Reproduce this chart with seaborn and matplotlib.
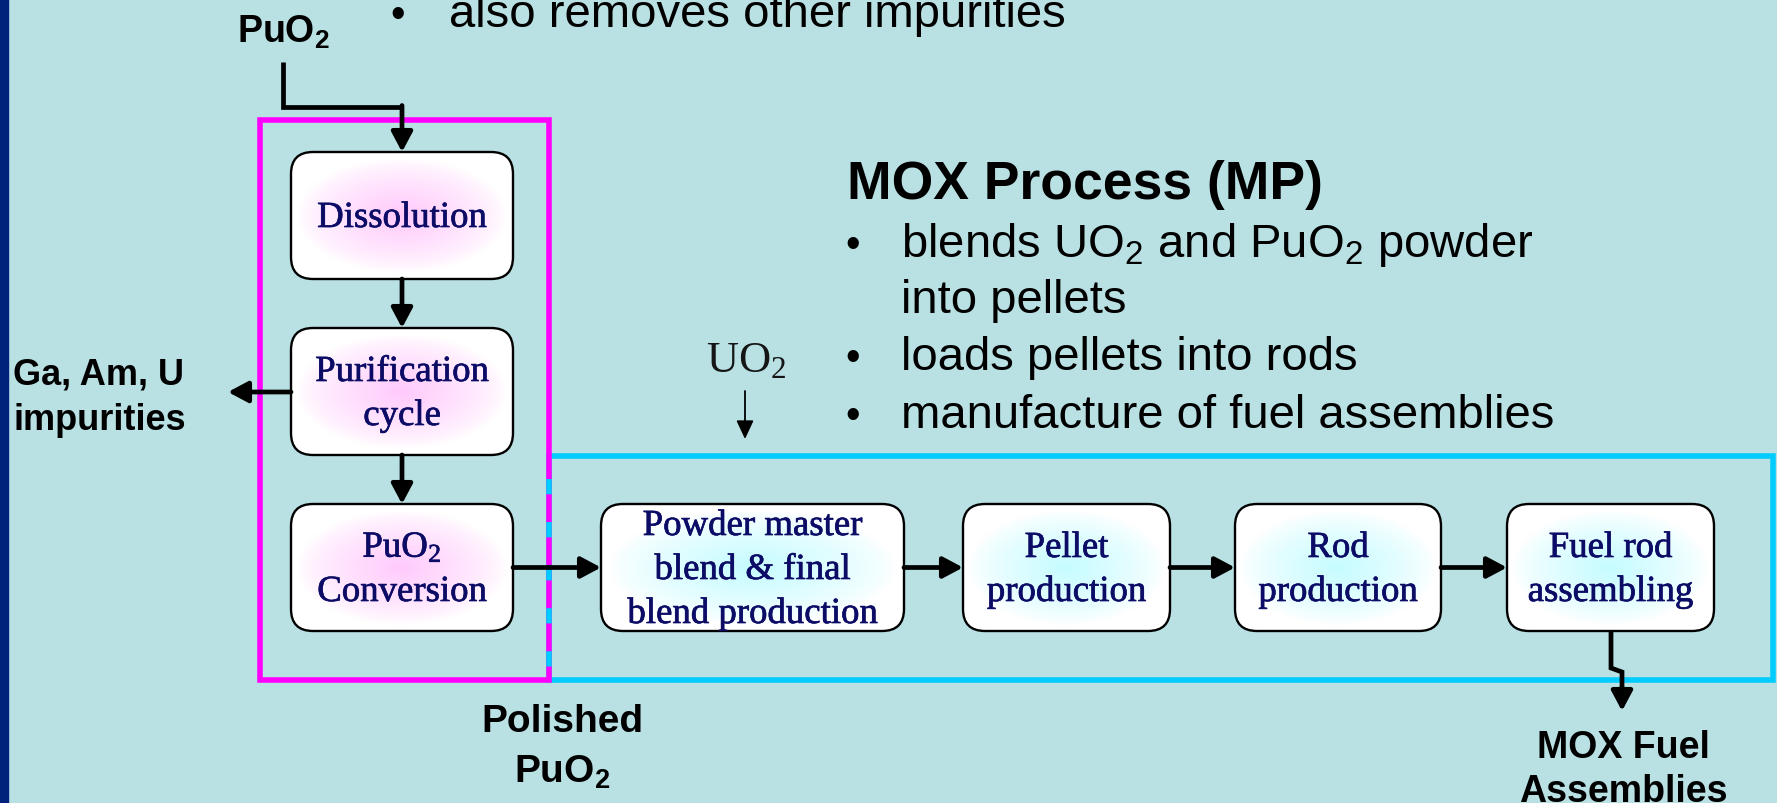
import matplotlib
matplotlib.use('Agg')
import matplotlib.pyplot as plt
import matplotlib.colors as mcolors
import matplotlib.patheffects as pe
import seaborn as sns
import numpy as np
from matplotlib.patches import FancyBboxPatch, Rectangle, FancyArrowPatch

# ---- diagram content ----
pu_steps = ['Dissolution', 'Purification\ncycle', r'$\mathregular{PuO_2}$' + '\nConversion']
mox_steps = ['Powder master\nblend & final\nblend production', 'Pellet\nproduction',
             'Rod\nproduction', 'Fuel rod\nassembling']
mp_title = 'MOX Process (MP)'
mp_bullets = [r'blends $\mathregular{UO_2}$ and $\mathregular{PuO_2}$ powder' + '\ninto pellets',
              'loads pellets into rods',
              'manufacture of fuel assemblies']
top_bullet = 'also removes other impurities'
feed_pu = r'$\mathregular{PuO_2}$'
feed_u = r'$\mathregular{UO_2}$'
waste_label = 'Ga, Am, U\nimpurities'
mid_label = 'Polished\n' + r'$\mathregular{PuO_2}$'
out_label = 'MOX Fuel\nAssemblies'

# ---- layout (pixels, y down) ----
W, H = 1777, 804
BG = '#b9e0e3'
NAVY = '#0c0c66'
PU_X, PU_W, PU_H = 291, 222, 127
PU_Y = [153, 329, 505]
MOX_Y, MOX_H = 505, 127
MOX_X = [601, 963, 1235, 1507]
MOX_W = [303, 207, 206, 207]

sns.set_theme(style='white')
plt.rcParams['font.family'] = ['Liberation Sans', 'DejaVu Sans']
plt.rcParams['lines.scale_dashes'] = False

fig = plt.figure(figsize=(W / 100, H / 100), dpi=100)
fig.patch.set_facecolor(BG)
ax = fig.add_axes([0, 0, 1, 1])
ax.set_facecolor(BG)


def step_box(x, y, w, h, label, tint):
    """Rounded box with a soft radial tint and a serif label."""
    shape = dict(boxstyle='round,pad=0,rounding_size=22')
    base = FancyBboxPatch((x, y), w, h, fc='white', ec='none', zorder=3, **shape)
    ax.add_patch(base)
    gx, gy = np.meshgrid(np.linspace(-1, 1, 240), np.linspace(-1, 1, 140))
    r = np.sqrt((gx / 0.95) ** 2 + (gy / 0.9) ** 2)
    t = np.clip(1 - r, 0, 1) ** 0.75
    c = np.array(mcolors.to_rgb(tint))
    img = 1 - t[..., None] * (1 - c)
    im = ax.imshow(img, extent=(x, x + w, y + h, y), aspect='auto',
                   interpolation='bilinear', zorder=3.5)
    im.set_clip_path(base)
    ax.add_patch(FancyBboxPatch((x, y), w, h, fc='none', ec='black', lw=1.7, zorder=4, **shape))
    lines = label.split('\n')
    n = len(lines)
    for i, line in enumerate(lines):
        yb = y + h / 2 + 11.5 + (i - (n - 1) / 2) * 44
        ax.text(x + w / 2, yb, line, ha='center', va='baseline', fontsize=26.5,
                family=['Liberation Serif', 'DejaVu Serif'], color=NAVY, zorder=6,
                path_effects=[pe.withStroke(linewidth=0.5, foreground=NAVY)])


def arrow(p0, p1, lw=3.4, hl=0.6, hw=0.32, ms=20):
    ax.add_patch(FancyArrowPatch(p0, p1, arrowstyle=f'-|>,head_length={hl},head_width={hw}',
                                 mutation_scale=ms, lw=lw, color='black',
                                 shrinkA=0, shrinkB=0, zorder=5))


def put_lines(x, baselines, text, **kw):
    for yb, line in zip(baselines, text.split('\n')):
        ax.text(x, yb, line, va='baseline', **kw)


# left slide strip
ax.add_patch(Rectangle((0, 0), 8, H, color='#00227a', zorder=1))

# process frames
ax.add_patch(Rectangle((549, 457), 1224, 224, fill=False, ec='#00ccff', lw=4, zorder=1))
ax.add_patch(Rectangle((260, 121), 289, 560, fill=False, ec='#ff00ff', lw=4, zorder=2))
ax.plot([549, 549], [480, 681], color='#00ccff', lw=4, ls=(0, (11, 20)),
        solid_capstyle='butt', dash_capstyle='butt', zorder=2.5)

# boxes
for y, label in zip(PU_Y, pu_steps):
    step_box(PU_X, y, PU_W, PU_H, label, '#ffcafc')
for x, w, label in zip(MOX_X, MOX_W, mox_steps):
    step_box(x, MOX_Y, w, MOX_H, label, '#c6fcff')

# arrows: plutonium line
cx = PU_X + PU_W / 2
ax.plot([283, 283, cx], [63, 108, 108], color='black', lw=3.4,
        solid_joinstyle='miter', solid_capstyle='butt', zorder=5)
arrow((cx, 106.5), (cx, PU_Y[0]))
for i in range(2):
    arrow((cx, PU_Y[i] + PU_H), (cx, PU_Y[i + 1]))
arrow((PU_X, 393), (228, 393))

# arrows: MOX line
mid = MOX_Y + MOX_H / 2
arrow((PU_X + PU_W, mid), (MOX_X[0], mid))
for i in range(3):
    arrow((MOX_X[i] + MOX_W[i], mid), (MOX_X[i + 1], mid))
ax.plot([1611, 1611, 1622, 1622], [MOX_Y + MOX_H, 669, 673, 690], color='black', lw=3.4,
        solid_joinstyle='miter', solid_capstyle='butt', zorder=5)
arrow((1622, 688), (1622, 712))

# UO2 feed
ax.text(746, 372, feed_u, ha='center', va='baseline', fontsize=32,
        family=['Liberation Serif', 'DejaVu Serif'], color='#151515')
arrow((745, 392), (745, 440), lw=1.3, hl=0.75, hw=0.35, ms=15)

# labels
ax.text(283, 43, feed_pu, ha='center', va='baseline', fontsize=27, fontweight='bold', color='black')
ax.text(398, 27, '\u2022', ha='center', va='baseline', fontsize=30, color='black')
ax.text(449, 27, top_bullet, ha='left', va='baseline', fontsize=34, color='black')
put_lines(13, [385, 430], waste_label, ha='left', fontsize=26, fontweight='bold', color='black')
put_lines(562, [732, 783], mid_label, ha='center', fontsize=28, fontweight='bold', color='black')
put_lines(1623, [758, 802], out_label, ha='center', fontsize=27, fontweight='bold', color='black')

ax.text(847, 199, mp_title, ha='left', va='baseline', fontsize=38.5, fontweight='bold', color='black')
bullet_y = [257, 370, 428]
for yb, item in zip(bullet_y, mp_bullets):
    ax.text(853, yb, '\u2022', ha='center', va='baseline', fontsize=30, color='black')
    put_lines(901, [yb, yb + 56], item, ha='left', fontsize=34, color='black')

ax.set_xlim(0, W)
ax.set_ylim(H, 0)
ax.axis('off')
fig.savefig('out.png', dpi=100, facecolor=BG)
